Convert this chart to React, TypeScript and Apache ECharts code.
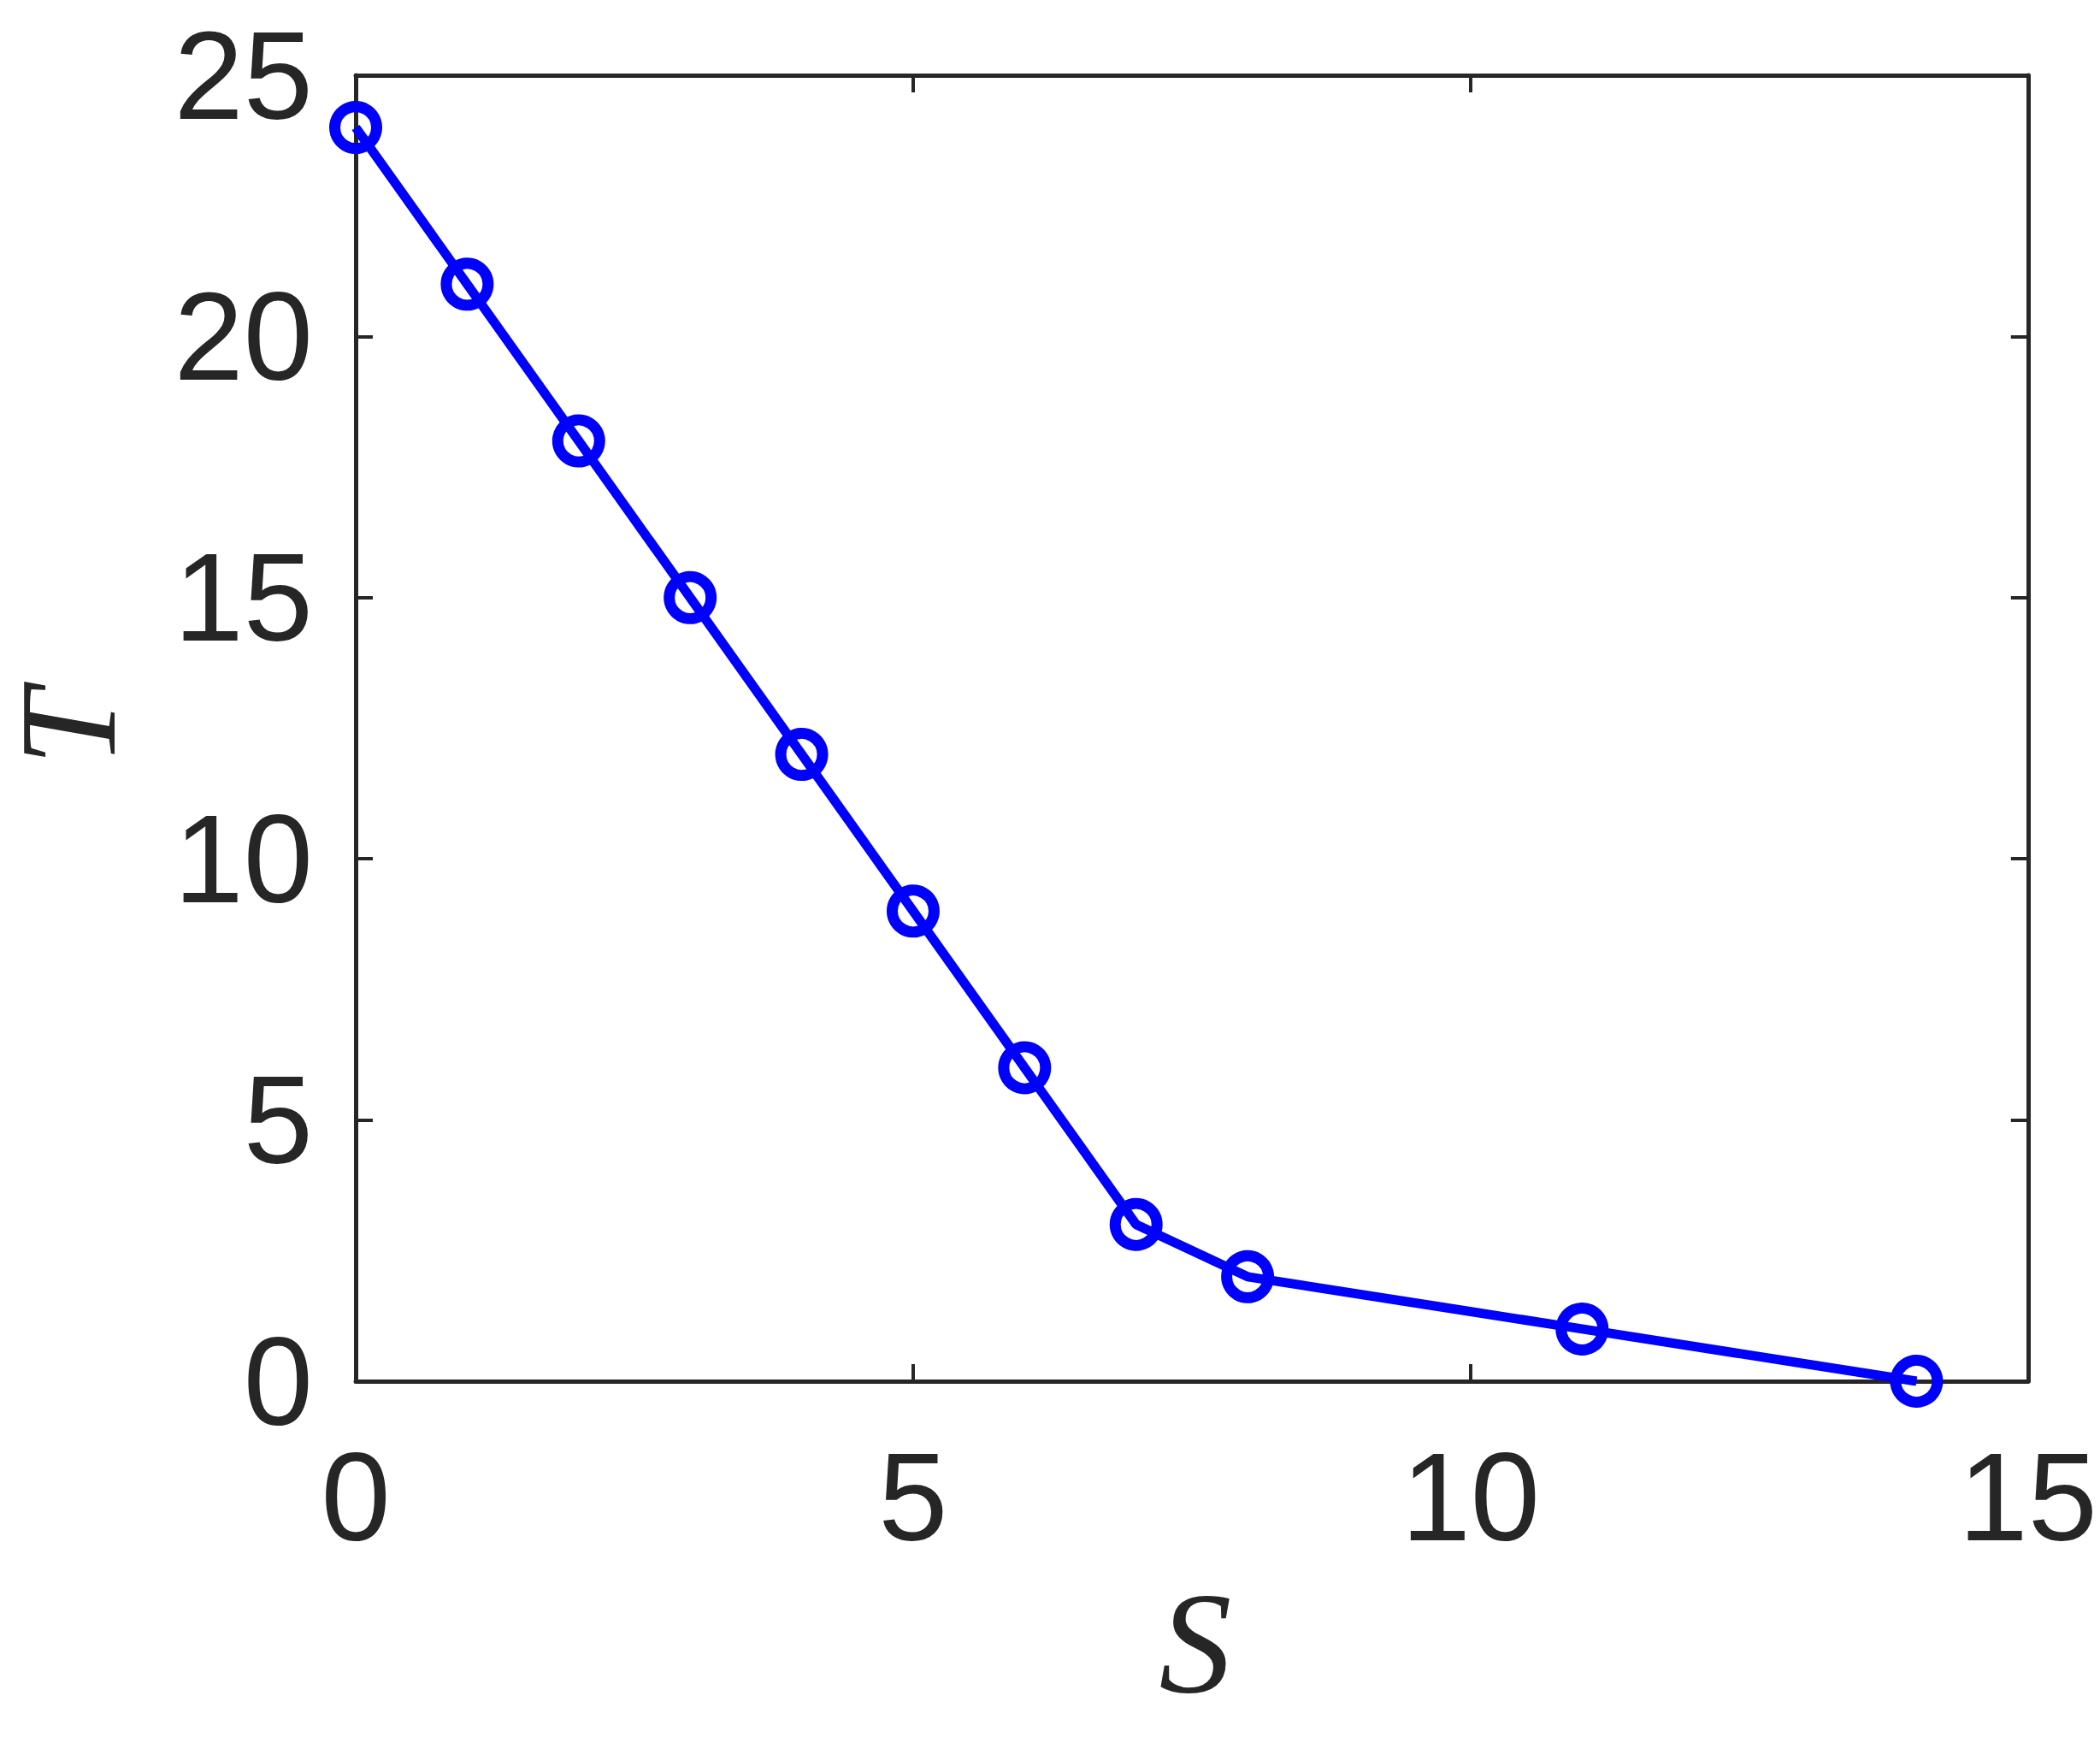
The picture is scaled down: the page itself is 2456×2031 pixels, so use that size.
import React, { useEffect, useRef } from "react";
import * as echarts from "echarts";

const sValues = [0, 1, 2, 3, 4, 5, 6, 7, 8, 11, 14];
const tValues = [24, 21, 18, 15, 12, 9, 6, 3, 2, 1, 0];
const xTicks = [0, 15, 5];
const yTicks = [0, 25, 5];
const xName = "S";
const yName = "T";

const INK = "#262626";
const BLUE = "#0000ff";
const G = { left: 416, top: 88, width: 1961, height: 1527 };

export default function App() {
  const ref = useRef<HTMLDivElement>(null);
  useEffect(() => {
    if (!ref.current) return;
    const chart = echarts.init(ref.current, null, { renderer: "svg" });
    const axisCommon = {
      type: "value",
      axisLine: { show: true, onZero: false, lineStyle: { color: INK, width: 5 } },
      axisTick: { show: true, inside: true, length: 20, lineStyle: { color: INK, width: 4 } },
      splitLine: { show: false },
    };
    const labelStyle = {
      color: INK,
      fontSize: 146,
      fontFamily: "'Liberation Sans', Arial, Helvetica, sans-serif",
    };
    chart.setOption({
      animation: false,
      backgroundColor: "#ffffff",
      grid: { left: G.left, top: G.top, width: G.width, height: G.height, containLabel: false },
      xAxis: [
        {
          ...axisCommon,
          position: "bottom",
          min: xTicks[0],
          max: xTicks[1],
          interval: xTicks[2],
          axisLabel: { ...labelStyle, margin: 62 },
        },
        {
          ...axisCommon,
          position: "top",
          min: xTicks[0],
          max: xTicks[1],
          interval: xTicks[2],
          axisLabel: { show: false },
        },
      ],
      yAxis: [
        {
          ...axisCommon,
          position: "left",
          min: yTicks[0],
          max: yTicks[1],
          interval: yTicks[2],
          axisLabel: { ...labelStyle, margin: 50 },
        },
        {
          ...axisCommon,
          position: "right",
          min: yTicks[0],
          max: yTicks[1],
          interval: yTicks[2],
          axisLabel: { show: false },
        },
      ],
      graphic: [
        {
          type: "text",
          x: 1398,
          y: 1921,
          style: {
            text: xName,
            fill: INK,
            font: "italic 170px 'Liberation Serif', 'DejaVu Serif', serif",
            textAlign: "center",
            textVerticalAlign: "middle",
          },
        },
        {
          type: "text",
          x: 80,
          y: 851,
          rotation: Math.PI / 2,
          style: {
            text: yName,
            fill: INK,
            font: "italic 160px 'Liberation Serif', 'DejaVu Serif', serif",
            lineHeight: 120,
            textAlign: "center",
            textVerticalAlign: "middle",
          },
        },
      ],
      series: [
        {
          type: "line",
          data: sValues.map((s, i) => [s, tValues[i]]),
          xAxisIndex: 0,
          yAxisIndex: 0,
          symbol: "circle",
          symbolSize: 49,
          showSymbol: true,
          lineStyle: { color: BLUE, width: 11 },
          itemStyle: { color: "rgba(0,0,0,0)", borderColor: BLUE, borderWidth: 13 },
          z: 5,
        },
      ],
    });
    return () => chart.dispose();
  }, []);
  return (
    <div
      ref={ref}
      style={{ position: "fixed", left: 0, top: 0, width: 2456, height: 2031 }}
    />
  );
}
